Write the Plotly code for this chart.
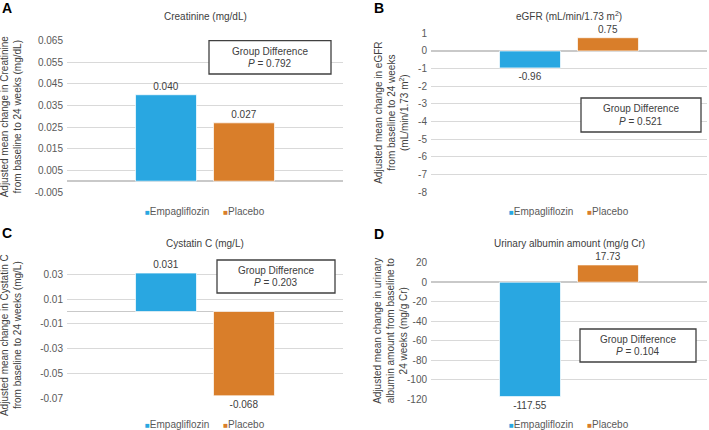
import plotly.graph_objects as go

# ---------------- data ----------------
series_names = ["Empagliflozin", "Placebo"]
category = ["Change from baseline to 24 weeks"]

creatinine = [0.040, 0.027]
egfr = [-0.96, 0.75]
cystatin_c = [0.031, -0.068]
urinary_albumin = [-117.55, 17.73]

p_values = ["0.792", "0.521", "0.203", "0.104"]
panel_letters = ["A", "B", "C", "D"]
panel_titles = [
    "Creatinine (mg/dL)",
    "eGFR (mL/min/1.73 m<sup>2</sup>)",
    "Cystatin C (mg/L)",
    "Urinary albumin amount (mg/g Cr)",
]
y_titles = [
    "Adjusted mean change in Creatinine<br>from baseline to 24 weeks (mg/dL)",
    "Adjusted mean change in eGFR<br>from baseline to 24 weeks<br>(mL/min/1.73 m<sup>2</sup>)",
    "Adjusted mean change in Cystatin C<br>from baseline to 24 weeks (mg/L)",
    "Adjusted mean change in urinary<br>albumin amount from baseline to<br>24 weeks (mg/g Cr)",
]
creatinine_ticks = [-0.005, 0.005, 0.015, 0.025, 0.035, 0.045, 0.055, 0.065]
egfr_ticks = [-8, -7, -6, -5, -4, -3, -2, -1, 0, 1]
cystatin_ticks = [-0.07, -0.05, -0.03, -0.01, 0.01, 0.03]
albumin_ticks = [-120, -100, -80, -60, -40, -20, 0, 20]

# ---------------- style ----------------
W, H = 709, 430
FONT = "Liberation Sans, Arial, sans-serif"
FS = 10
colors = ["#29A7E1", "#D97E2A"]
TEXT = "#404040"
TICK = "#595959"
GRID = "#d9d9d9"

panels = [
    dict(vals=creatinine, ticks=creatinine_ticks, fmt=".3f", rng=[-0.005, 0.065],
         px=(67, 343), py=(40.7, 192.0), title_y=16, ytitle_x=11,
         box=(209, 331, 40.7, 74), lab=(7, 8), legend_y=211),
    dict(vals=egfr, ticks=egfr_ticks, fmt=".2f", rng=[-8, 1],
         px=(431, 707), py=(33.3, 192.3), title_y=16, ytitle_x=392,
         box=(581, 701, 98, 132), lab=(379, 8), legend_y=211),
    dict(vals=cystatin_c, ticks=cystatin_ticks, fmt=".3f", rng=[-0.07, 0.032],
         px=(67, 343), py=(271.8, 398.3), title_y=243, ytitle_x=11,
         box=(217, 335, 260, 293), lab=(7, 233), legend_y=424),
    dict(vals=urinary_albumin, ticks=albumin_ticks, fmt=".2f", rng=[-120, 20],
         px=(431, 707), py=(262.7, 399.0), title_y=243, ytitle_x=391,
         box=(580, 696, 329, 362), lab=(379, 234), legend_y=424),
]
tick_formats = [".3f", "d", ".2f", "d"]


def fx(px):
    return px / W


def fy(py):
    return 1 - py / H


fig = go.Figure()
annotations = []
shapes = []
layout_axes = {}

legend_text = "&nbsp;&nbsp;&nbsp;&nbsp;&nbsp;".join(
    "<span style='color:%s;font-size:8px'>■</span>%s" % (c, n)
    for c, n in zip(colors, series_names)
)

for i, p in enumerate(panels):
    n = "" if i == 0 else str(i + 1)
    for j, name in enumerate(series_names):
        fig.add_trace(go.Bar(
            x=category, y=[p["vals"][j]], name=name,
            marker=dict(color=colors[j], line=dict(color="rgba(255,255,255,0.7)", width=1)),
            texttemplate="%{y:" + p["fmt"] + "}", textposition="outside",
            textfont=dict(size=FS, color=TEXT, family=FONT),
            cliponaxis=False, hoverinfo="skip", showlegend=False,
            xaxis="x" + n, yaxis="y" + n,
        ))
    tf = tick_formats[i]
    ticktext = [format(t, tf) if tf != "d" else str(int(t)) for t in p["ticks"]]
    layout_axes["xaxis" + n] = dict(
        domain=[fx(p["px"][0]), fx(p["px"][1])], anchor="y" + n,
        showticklabels=False, showgrid=False, zeroline=False, showline=False,
        fixedrange=True,
    )
    layout_axes["yaxis" + n] = dict(
        domain=[fy(p["py"][1]), fy(p["py"][0])], anchor="x" + n,
        range=p["rng"], tickvals=p["ticks"], ticktext=ticktext,
        tickfont=dict(size=FS, color=TICK, family=FONT),
        showgrid=True, gridcolor=GRID, gridwidth=1,
        zeroline=True, zerolinecolor="#c9c9c9", zerolinewidth=1.5,
        showline=False, ticks="", ticklabelstandoff=3, fixedrange=True,
        automargin=False,
    )
    cx = (p["px"][0] + p["px"][1]) / 2
    # legend
    annotations.append(dict(
        text=legend_text, x=fx(cx), y=fy(p["legend_y"]), xref="paper", yref="paper",
        xanchor="center", yanchor="middle", showarrow=False,
        font=dict(size=FS, color=TICK, family=FONT),
    ))
    # panel title
    annotations.append(dict(
        text=panel_titles[i], x=fx(cx), y=fy(p["title_y"]), xref="paper", yref="paper",
        xanchor="center", yanchor="middle", showarrow=False,
        font=dict(size=FS, color=TEXT, family=FONT),
    ))
    # y axis title
    annotations.append(dict(
        text=y_titles[i], x=fx(p["ytitle_x"]), y=fy((p["py"][0] + p["py"][1]) / 2),
        xref="paper", yref="paper", xanchor="center", yanchor="middle",
        textangle=-90, showarrow=False,
        font=dict(size=FS, color=TEXT, family=FONT),
    ))
    # panel letter
    annotations.append(dict(
        text="<b>" + panel_letters[i] + "</b>", x=fx(p["lab"][0]), y=fy(p["lab"][1]),
        xref="paper", yref="paper", xanchor="center", yanchor="middle", showarrow=False,
        font=dict(size=14, color="#000000", family=FONT),
    ))
    # group difference box
    x0, x1, y0, y1 = p["box"]
    shapes.append(dict(
        type="rect", xref="paper", yref="paper",
        x0=fx(x0), x1=fx(x1), y0=fy(y1), y1=fy(y0),
        line=dict(color="#404040", width=1.3), fillcolor="white", layer="above",
    ))
    bx = (x0 + x1) / 2
    by = (y0 + y1) / 2
    annotations.append(dict(
        text="Group Difference", x=fx(bx), y=fy(by - 6), xref="paper", yref="paper",
        xanchor="center", yanchor="middle", showarrow=False,
        font=dict(size=FS, color=TEXT, family=FONT),
    ))
    annotations.append(dict(
        text="<i>P</i> = " + p_values[i], x=fx(bx), y=fy(by + 6), xref="paper", yref="paper",
        xanchor="center", yanchor="middle", showarrow=False,
        font=dict(size=FS, color=TEXT, family=FONT),
    ))

fig.update_layout(
    width=W, height=H, margin=dict(l=0, r=0, t=0, b=0, pad=0, autoexpand=False),
    paper_bgcolor="white", plot_bgcolor="white",
    barmode="group", bargap=0.435, bargroupgap=0.218,
    font=dict(family=FONT, size=FS, color=TEXT),
    showlegend=False,
    annotations=annotations, shapes=shapes,
    **layout_axes,
)

fig.write_html(
    "out.html",
    config={"displayModeBar": False, "staticPlot": True},
    post_script="document.body.style.margin='0';document.body.style.overflow='hidden';",
)
